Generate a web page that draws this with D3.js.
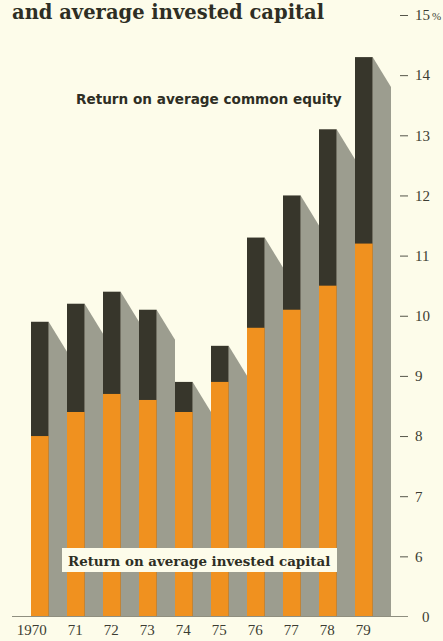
<!DOCTYPE html>
<html>
<head>
<meta charset="utf-8">
<script src="https://d3js.org/d3.v7.min.js"></script>
<style>
body { margin: 0; background: #fdfcea; }
svg { display: block; }
</style>
</head>
<body>
<script>
/* chart values */
var years = ["1970", "71", "72", "73", "74", "75", "76", "77", "78", "79"];
var equity = [9.9, 10.2, 10.4, 10.1, 8.9, 9.5, 11.3, 12.0, 13.1, 14.3];
var invested = [8.0, 8.4, 8.7, 8.6, 8.4, 8.9, 9.8, 10.1, 10.5, 11.2];
var tickValues = [5, 6, 7, 8, 9, 10, 11, 12, 13, 14, 15];
var tickLabels = ["0", "6", "7", "8", "9", "10", "11", "12", "13", "14", "15"];

var W = 443, H = 641;
var svg = d3.select("body").append("svg").attr("width", W).attr("height", H);

svg.append("rect").attr("width", W).attr("height", H).attr("fill", "#fdfcea");

/* broken axis: baseline "0" sits where 5 would be */
var y = d3.scaleLinear().domain([5, 15]).range([616.5, 15]);
var step = 36, pad = 0.51;
var x = d3.scaleBand().domain(years)
  .range([31, 31 + step * (years.length - pad)])
  .paddingInner(pad).paddingOuter(0);
var bw = x.bandwidth();
var shW = x.step() - bw;
var base = y(5);

var rows = years.map(function(d, i) {
  return { year: d, eq: equity[i], inv: invested[i] };
});

/* title (first line cropped away in the source) */
svg.append("text")
  .attr("x", 12).attr("y", 19)
  .attr("font-family", "DejaVu Serif").attr("font-weight", "bold")
  .attr("font-size", 19.5).attr("fill", "#2e2e24")
  .text("and average invested capital");

/* grey shadows */
svg.selectAll("path.shadow").data(rows).enter().append("path")
  .attr("class", "shadow")
  .attr("fill", "#9c9d8f")
  .attr("d", function(d) {
    var x0 = x(d.year) + bw, t = y(d.eq);
    return "M" + x0 + "," + t + "L" + (x0 + shW) + "," + (t + 30) +
      "L" + (x0 + shW) + "," + base + "L" + x0 + "," + base + "Z";
  });

/* equity (dark) bars */
svg.selectAll("rect.eq").data(rows).enter().append("rect")
  .attr("class", "eq")
  .attr("x", function(d) { return x(d.year); })
  .attr("y", function(d) { return y(d.eq); })
  .attr("width", bw)
  .attr("height", function(d) { return base - y(d.eq); })
  .attr("fill", "#37362b");

/* invested capital (orange) bars */
svg.selectAll("rect.inv").data(rows).enter().append("rect")
  .attr("class", "inv")
  .attr("x", function(d) { return x(d.year); })
  .attr("y", function(d) { return y(d.inv); })
  .attr("width", bw)
  .attr("height", function(d) { return base - y(d.inv); })
  .attr("fill", "#f0911f");

/* baseline */
svg.append("line")
  .attr("x1", 12).attr("x2", 408)
  .attr("y1", base).attr("y2", base)
  .attr("stroke", "#8f8f80").attr("stroke-width", 1);

/* right axis */
var yAxis = d3.axisRight(y)
  .tickValues(tickValues)
  .tickSize(0)
  .tickPadding(0)
  .tickFormat(function(d, i) { return tickLabels[i]; });

var ax = svg.append("g").attr("transform", "translate(400,0)").call(yAxis);
ax.select(".domain").remove();
ax.selectAll(".tick").filter(function(d) { return d !== 5; })
  .append("line").attr("x1", 0).attr("x2", 8)
  .attr("stroke", "#55554a").attr("stroke-width", 1);
ax.selectAll(".tick text")
  .attr("x", function(d) { return d === 5 ? 22 : 15; })
  .attr("font-family", "Liberation Serif").attr("font-size", 15)
  .attr("fill", "#3c3c32");
ax.selectAll(".tick text").filter(function(d) { return d === 15; })
  .append("tspan").attr("dx", 2).attr("font-size", 11).text("%");

/* year labels: last two digits centred under each bar */
svg.selectAll("text.year").data(rows).enter().append("text")
  .attr("class", "year")
  .attr("x", function(d) { return x(d.year) + bw / 2 + 7; })
  .attr("y", 635)
  .attr("text-anchor", "end")
  .attr("font-family", "Liberation Serif").attr("font-size", 15)
  .attr("fill", "#3c3c32")
  .text(function(d) { return d.year; });

/* series labels */
svg.append("text")
  .attr("x", 76).attr("y", 104)
  .attr("font-family", "DejaVu Sans").attr("font-weight", "bold")
  .attr("font-size", 13.6).attr("fill", "#2e2e24")
  .text("Return on average common equity");

svg.append("rect")
  .attr("x", 62).attr("y", 548).attr("width", 275).attr("height", 24)
  .attr("fill", "#fdfcea");
svg.append("text")
  .attr("x", 68).attr("y", 566)
  .attr("font-family", "DejaVu Serif").attr("font-weight", "bold")
  .attr("font-size", 13.4).attr("fill", "#2e2e24")
  .text("Return on average invested capital");
</script>
</body>
</html>
